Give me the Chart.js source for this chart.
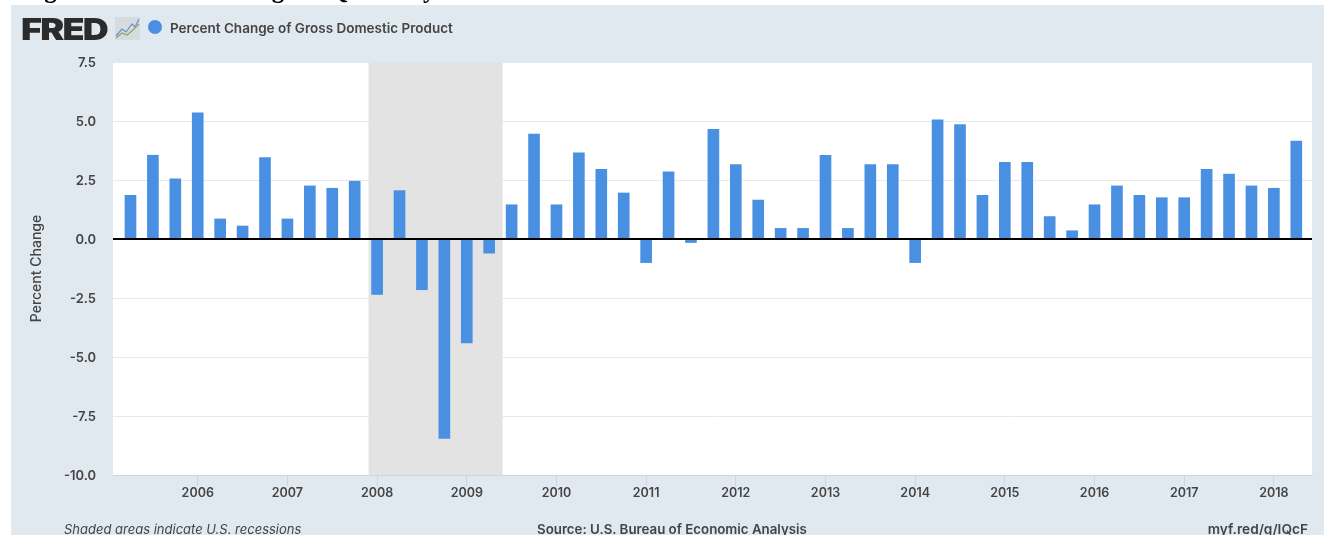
<!DOCTYPE html>
<html>
<head>
<meta charset="utf-8">
<title>Percent Change of Gross Domestic Product</title>
<script src="https://cdn.jsdelivr.net/npm/chart.js@4"></script>
<style>
    html, body { margin: 0; padding: 0; width: 1324px; height: 535px; overflow: hidden; background: #fff; }
    body { position: relative; font-family: Inter, "DejaVu Sans", sans-serif; color: #444; }
    .panel { position: absolute; left: 11px; top: 5px; width: 1313px; height: 530px; background: #e1e9f0; }
    canvas { position: absolute; left: 0; top: 0; }
    .txt { position: absolute; white-space: nowrap; }
    .figTitle { left: 22px; top: -24px; font: bold 25px/28px "Liberation Serif", serif; color: #000; }
    .logo { left: 21px; top: 11px; font: 900 30px/36px Inter, sans-serif; letter-spacing: -1.5px; color: #2b2b2b; transform: scaleX(1.2); transform-origin: left center; }
    .dot { position: absolute; left: 148px; top: 20px; width: 14px; height: 14px; border-radius: 50%; background: #4a90e2; }
    .legend { left: 170px; top: 20px; font-size: 13.5px; line-height: 16px; font-weight: 600; }
    .foot { top: 521px; font-size: 13.5px; line-height: 16px; }
    .icon { position: absolute; left: 115px; top: 17px; }
</style>
</head>
<body>
<div class="panel"></div>
<canvas id="gdpChart" width="1324" height="535"></canvas>
<div class="txt figTitle">Figure 1: Percent Change in Quarterly GDP</div>
<div class="txt logo">FRED</div>
<svg class="icon" width="25" height="23" viewBox="0 0 25 23">
    <rect width="25" height="23" fill="#d5dbe0"/>
    <polyline points="1,19 7,12 11,15 17,7 20,10 24,2" fill="none" stroke="#6f93bb" stroke-width="1.2"/>
    <polyline points="1,21 7,16 12,18 18,13 24,7" fill="none" stroke="#86ab5e" stroke-width="1.2"/>
</svg>
<div class="dot"></div>
<div class="txt legend" id="legendText"></div>
<div class="txt foot" id="footLeft" style="left:64px;font-size:13px;font-style:italic;font-weight:400"></div>
<div class="txt foot" id="footMid" style="left:537px;font-size:13.3px;font-weight:600"></div>
<div class="txt foot" id="footRight" style="right:16px;font-size:13.7px;font-weight:600"></div>

<script>
// Chart Data
const seriesName = 'Percent Change of Gross Domestic Product';
const quarters = [
    '2005Q2', '2005Q3', '2005Q4',
    '2006Q1', '2006Q2', '2006Q3', '2006Q4',
    '2007Q1', '2007Q2', '2007Q3', '2007Q4',
    '2008Q1', '2008Q2', '2008Q3', '2008Q4',
    '2009Q1', '2009Q2', '2009Q3', '2009Q4',
    '2010Q1', '2010Q2', '2010Q3', '2010Q4',
    '2011Q1', '2011Q2', '2011Q3', '2011Q4',
    '2012Q1', '2012Q2', '2012Q3', '2012Q4',
    '2013Q1', '2013Q2', '2013Q3', '2013Q4',
    '2014Q1', '2014Q2', '2014Q3', '2014Q4',
    '2015Q1', '2015Q2', '2015Q3', '2015Q4',
    '2016Q1', '2016Q2', '2016Q3', '2016Q4',
    '2017Q1', '2017Q2', '2017Q3', '2017Q4',
    '2018Q1', '2018Q2'
];
const gdpChange = [
    1.85, 3.55, 2.55,
    5.35, 0.85, 0.55, 3.45,
    0.85, 2.25, 2.15, 2.45,
    -2.35, 2.05, -2.15, -8.45,
    -4.4, -0.6, 1.45, 4.45,
    1.45, 3.65, 2.95, 1.95,
    -1.0, 2.85, -0.15, 4.65,
    3.15, 1.65, 0.45, 0.45,
    3.55, 0.45, 3.15, 3.15,
    -1.0, 5.05, 4.85, 1.85,
    3.25, 3.25, 0.95, 0.35,
    1.45, 2.25, 1.85, 1.75,
    1.75, 2.95, 2.75, 2.25,
    2.15, 4.15
];
const yearTicks = ['2006', '2007', '2008', '2009', '2010', '2011', '2012', '2013', '2014', '2015', '2016', '2017', '2018'];
const valueTicks = [7.5, 5, 2.5, 0, -2.5, -5, -7.5, -10];
// Recession, in quarter positions along the x axis (Dec 2007 - Jun 2009)
const recession = [10.62, 16.6];
const xRange = [-0.78, 52.70];

// Footer text
document.getElementById('legendText').textContent = seriesName;
document.getElementById('footLeft').textContent = 'Shaded areas indicate U.S. recessions';
document.getElementById('footMid').textContent = 'Source: U.S. Bureau of Economic Analysis';
document.getElementById('footRight').textContent = 'myf.red/g/IQcF';

const fontFamily = 'Inter, "DejaVu Sans", sans-serif';

// White plot area, recession band and the zero line
const plotDecor = {
    id: 'plotDecor',
    beforeDraw(chart) {
        const { ctx, chartArea: a } = chart;
        ctx.save();
        ctx.fillStyle = '#fff';
        ctx.fillRect(a.left, a.top, a.right - a.left, a.bottom - a.top);
        ctx.restore();
    },
    beforeDatasetsDraw(chart) {
        const { ctx, chartArea: a, scales } = chart;
        const x0 = scales.x.getPixelForValue(recession[0]);
        const x1 = scales.x.getPixelForValue(recession[1]);
        ctx.save();
        ctx.fillStyle = '#e3e3e3';
        ctx.fillRect(x0, a.top, x1 - x0, a.bottom - a.top);
        ctx.restore();
    },
    afterDatasetsDraw(chart) {
        const { ctx, chartArea: a, scales } = chart;
        const y = Math.round(scales.y.getPixelForValue(0));
        ctx.save();
        ctx.fillStyle = '#000';
        ctx.fillRect(a.left, y - 1, a.right - a.left, 2);
        ctx.restore();
    }
};

new Chart(document.getElementById('gdpChart').getContext('2d'), {
    type: 'bar',
    data: {
        datasets: [{
            label: seriesName,
            data: gdpChange.map((v, i) => ({ x: i, y: v })),
            backgroundColor: '#4a90e2',
            barThickness: 11
        }]
    },
    options: {
        responsive: false,
        animation: false,
        layout: { padding: { left: 11, top: 62, right: 12, bottom: 0 } },
        plugins: { legend: { display: false }, tooltip: { enabled: false } },
        scales: {
            x: {
                type: 'linear',
                offset: false,
                min: xRange[0],
                max: xRange[1],
                afterBuildTicks(axis) {
                    axis.ticks = yearTicks.map(y => ({ value: quarters.indexOf(y + 'Q1') }));
                },
                afterFit(axis) { axis.height = 60; },
                grid: {
                    offset: false,
                    drawOnChartArea: false,
                    drawTicks: true,
                    tickLength: 11,
                    color: '#c9d6e8'
                },
                border: { color: '#c9d6e8' },
                ticks: {
                    autoSkip: false,
                    maxRotation: 0,
                    padding: 0,
                    color: '#444',
                    font: { family: fontFamily, size: 12.5, weight: '600' },
                    callback: value => quarters[value].slice(0, 4)
                }
            },
            y: {
                min: -10,
                max: 7.5,
                afterBuildTicks(axis) {
                    axis.ticks = valueTicks.map(v => ({ value: v }));
                },
                afterFit(axis) { axis.width = 102; },
                grid: { color: '#e8e8e8', drawTicks: false },
                border: { display: false },
                ticks: {
                    padding: 17,
                    labelOffset: 1,
                    color: '#444',
                    font: { family: fontFamily, size: 13, weight: '600' },
                    callback: value => value.toFixed(1)
                },
                title: {
                    display: true,
                    text: 'Percent Change',
                    color: '#444',
                    padding: { top: 17, bottom: 0 },
                    font: { family: fontFamily, size: 14, weight: '500' }
                }
            }
        }
    },
    plugins: [plotDecor]
});
</script>
</body>
</html>
